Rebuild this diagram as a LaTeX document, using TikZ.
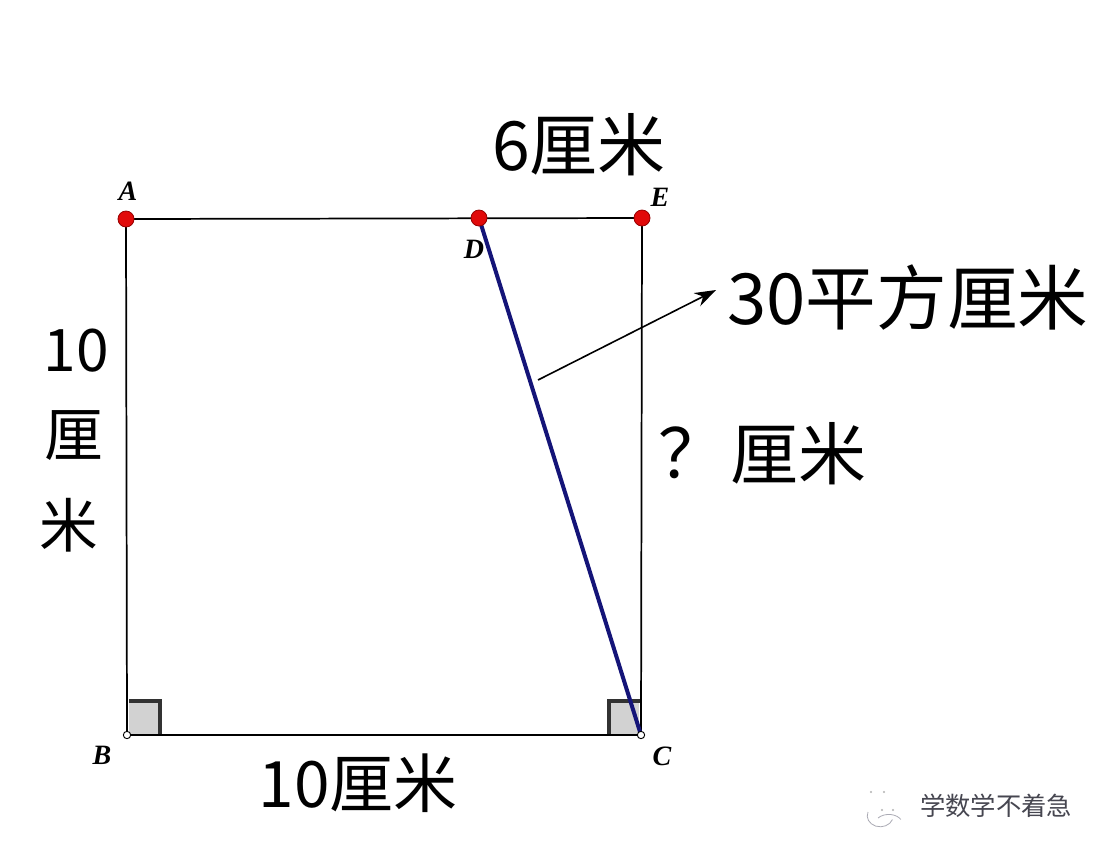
\documentclass[tikz,border=0pt]{standalone}
\usepackage{fontspec}
\setmainfont{Noto Sans CJK SC}
\newfontfamily\ptfont{Liberation Serif}
\usetikzlibrary{arrows.meta}
\begin{document}
\begin{tikzpicture}[x=0.75pt,y=-0.75pt,
  edge/.style={line width=1.3pt,black},
  seg/.style={line width=3pt,color={rgb,255:red,20;green,20;blue,120}},
  reddot/.style={circle,fill={rgb,255:red,225;green,10;blue,10},draw={rgb,255:red,150;green,0;blue,0},line width=0.6pt,minimum size=12pt,inner sep=0pt},
  whitedot/.style={circle,fill=white,draw=black,line width=0.7pt,minimum size=5.5pt,inner sep=0pt},
  ptlabel/.style={font=\ptfont\bfseries\itshape\fontsize{21}{24}\selectfont,inner sep=0pt},
  biglabel/.style={font=\fontsize{51}{60}\selectfont,inner sep=0pt},
  vlabel/.style={font=\fontsize{44}{52}\selectfont,inner sep=0pt},
  rightmark/.style={fill={rgb,255:red,210;green,210;blue,210}},
  rightedge/.style={line width=3pt,color={rgb,255:red,50;green,50;blue,50}},
  wm/.style={font=\fontsize{19}{22}\selectfont,text={rgb,255:red,70;green,70;blue,80},inner sep=0pt}
]
\useasboundingbox (0,0) rectangle (1112,858);
\fill[white] (0,0) rectangle (1112,858);
% points
\coordinate (A) at (126,219);
\coordinate (D) at (479,218);
\coordinate (E) at (642,218);
\coordinate (B) at (127,735);
\coordinate (C) at (641,735);
% right angle marks
\fill[rightmark] (129,701) rectangle (160,734);
\draw[rightedge] (129,701) -- (160,701) -- (160,735);
\fill[rightmark] (609,701) rectangle (639,734);
\draw[rightedge] (609,735) -- (609,701) -- (640,701);
% rectangle
\draw[edge] (A) -- (E) -- (C) -- (B) -- (A);
% segment DC
\draw[seg] (D) -- (C);
% arrow
\coordinate (arrS) at (538,380);
\coordinate (arrT) at (716,290);
\draw[line width=1.2pt,-{Stealth[length=16pt,width=11pt]}] (arrS) -- (arrT);
% dots
\node[reddot] (dA) at (A) {};
\node[reddot] (dD) at (D) {};
\node[reddot] (dE) at (E) {};
\node[whitedot] (dB) at (B) {};
\node[whitedot] (dC) at (C) {};
% point labels
\node[ptlabel] (lA) at (128,191) {A};
\node[ptlabel] (lE) at (660,197) {E};
\node[ptlabel] (lD) at (474,249) {D};
\node[ptlabel] (lB) at (102,755) {B};
\node[ptlabel] (lC) at (662,756) {C};
% measures
\node[biglabel] (t6) at (579,145) {6厘米};
\node[biglabel,font=\fontsize{53}{60}\selectfont] (t30) at (908,297) {30平方厘米};
\node[biglabel] (tq) at (692,453) {？};
\node[biglabel] (tcm) at (798,454) {厘米};
\node[biglabel,font=\fontsize{48}{56}\selectfont] (t10b) at (358,783) {10厘米};
\node[vlabel] (v1) at (76,351) {10};
\node[vlabel] (v2) at (74,436) {厘};
\node[vlabel] (v3) at (69,525) {米};
% watermark
\node[wm] (wmt) at (996,806) {学数学不着急};
\begin{scope}[draw={rgb,255:red,170;green,170;blue,180},line width=0.6pt]
\draw (868,812) arc (200:20:13 and 11);
\draw (878,818) arc (220:330:14 and 10);
\fill[gray!60] (871,792) circle (1.2);
\fill[gray!60] (884,792) circle (1.2);
\fill[gray!60] (882,810) circle (1.1);
\fill[gray!60] (893,810) circle (1.1);
\end{scope}
\end{tikzpicture}
\end{document}
